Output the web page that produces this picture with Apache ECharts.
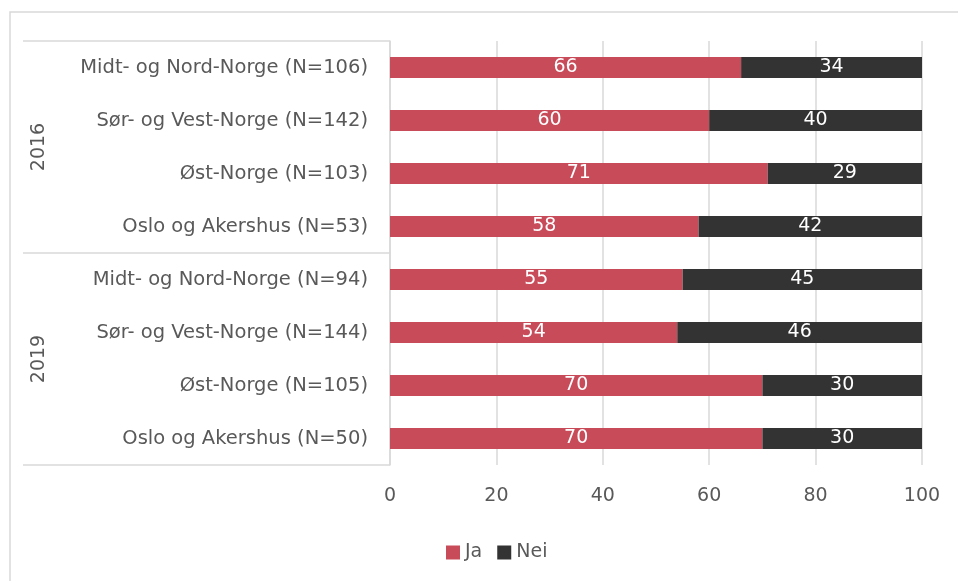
<!DOCTYPE html>
<html>
<head>
<meta charset="utf-8">
<script src="https://cdn.jsdelivr.net/npm/echarts@6/dist/echarts.min.js"></script>
<style>
html,body{margin:0;padding:0;background:#fff;}
#chart{width:958px;height:581px;}
</style>
</head>
<body>
<div id="chart"></div>
<script>
const categories = [
  'Midt- og Nord-Norge (N=106)',
  'Sør- og Vest-Norge (N=142)',
  'Øst-Norge (N=103)',
  'Oslo og Akershus (N=53)',
  'Midt- og Nord-Norge (N=94)',
  'Sør- og Vest-Norge (N=144)',
  'Øst-Norge (N=105)',
  'Oslo og Akershus (N=50)'
];
const groups = ['2016', '2019'];
const jaValues = [66, 60, 71, 58, 55, 54, 70, 70];
const neiValues = [34, 40, 29, 42, 45, 46, 30, 30];
const xTicks = { min: 0, max: 100, interval: 20 };

const FONT = 'DejaVu Sans';
const FS = 19;
const chart = echarts.init(document.getElementById('chart'));
chart.setOption({
  animation: false,
  textStyle: { fontFamily: FONT },
  graphic: [{
    type: 'rect',
    shape: { x: 10, y: 12, width: 1000, height: 700 },
    style: { fill: 'none', stroke: '#d9d9d9', lineWidth: 1.5 },
    silent: true, z: -10
  }],
  grid: { left: 390, right: 36, top: 41, bottom: 116 },
  legend: {
    top: 538, left: 441,
    itemWidth: 14, itemHeight: 14, itemGap: 15,
    icon: 'rect',
    textStyle: { fontFamily: FONT, fontSize: FS, color: '#595959' },
    data: ['Ja', 'Nei']
  },
  xAxis: {
    type: 'value', min: xTicks.min, max: xTicks.max, interval: xTicks.interval,
    axisLine: { show: false }, axisTick: { show: false },
    splitLine: { lineStyle: { color: '#d9d9d9', width: 1.5 } },
    axisLabel: { fontFamily: FONT, fontSize: FS, color: '#595959', margin: 22 }
  },
  yAxis: [{
    type: 'category', inverse: true, data: categories,
    axisLine: { lineStyle: { color: '#d9d9d9', width: 1.5 } },
    axisTick: { show: false },
    axisLabel: { fontFamily: FONT, fontSize: 19.5, color: '#595959', margin: 22 }
  }, {
    type: 'category', inverse: true, data: groups, position: 'left',
    axisLine: { show: false },
    axisTick: { show: true, length: 367, lineStyle: { color: '#d9d9d9', width: 1.5 } },
    axisLabel: { fontFamily: FONT, fontSize: FS, color: '#595959', rotate: 90, margin: 341 }
  }],
  series: [{
    name: 'Ja', type: 'bar', stack: 'total', barWidth: 21,
    data: jaValues,
    itemStyle: { color: '#C84B5A' },
    label: { show: true, position: 'inside', color: '#fff', fontFamily: FONT, fontSize: FS }
  }, {
    name: 'Nei', type: 'bar', stack: 'total', barWidth: 21,
    data: neiValues,
    itemStyle: { color: '#333333' },
    label: { show: true, position: 'inside', color: '#fff', fontFamily: FONT, fontSize: FS }
  }]
});
</script>
</body>
</html>
